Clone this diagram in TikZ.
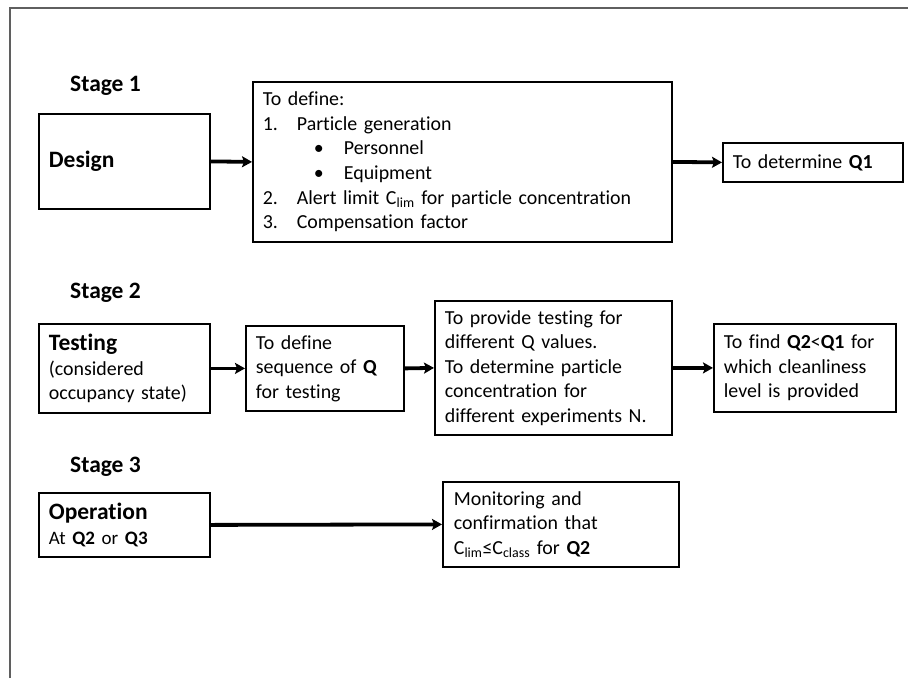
\documentclass[tikz,border=0pt]{standalone}
\usepackage{fontspec}
\setmainfont{Carlito}[Ligatures={NoCommon}]
\usetikzlibrary{arrows.meta}
\definecolor{framegray}{HTML}{5F5F5F}
\newcommand{\ttl}[1]{{\fontsize{23.5}{24.6}\selectfont\bfseries #1}}
\tikzset{
  txt/.style={font=\fontsize{19.9}{24.6}\selectfont},
  stagelabel/.style={font=\fontsize{23.5}{24.6}\selectfont\bfseries, anchor=west, inner sep=0pt},
  box/.style={txt, draw, line width=1.8pt, anchor=north west, align=left, inner xsep=10pt, inner ysep=0pt},
  arr/.style={line width=3.8pt, -{Stealth[length=10pt,width=11pt,inset=2pt]}},
}
\begin{document}
\begin{tikzpicture}[x=1pt,y=-1pt]
\useasboundingbox (0,0) rectangle (908,678);
\draw[framegray, line width=2pt] (10,678) -- (10,8) -- (908,8);

% Stage 1
\node[stagelabel] (s1) at (70,86) {Stage 1};
\node[box, minimum width=171pt, minimum height=95pt, text width=151pt] (design) at (38,113) {\ttl{Design}};
\node[box, minimum width=419pt, minimum height=160pt, text width=399pt] (define) at (252,81) {To define:\\
\makebox[34pt][l]{1.}Particle generation\\
\hspace*{51pt}\makebox[30pt][l]{\textbullet}Personnel\\
\hspace*{51pt}\makebox[30pt][l]{\textbullet}Equipment\\
\makebox[34pt][l]{2.}Alert limit C\textsubscript{lim} for particle concentration\\
\makebox[34pt][l]{3.}Compensation factor};
\node[box, minimum width=180pt, minimum height=39pt, text width=160pt] (q1) at (722,142) {To determine \textbf{Q1}};
\draw[arr] (design.east) -- (define.west);
\draw[arr] (define.east) -- (q1.west);

% Stage 2
\node[stagelabel] (s2) at (70,293) {Stage 2};
\node[box, minimum width=171pt, minimum height=89pt, text width=151pt] (testing) at (38,323) {\ttl{Testing}\\(considered\\occupancy state)};
\node[box, minimum width=158pt, minimum height=85pt, text width=138pt] (seq) at (245,325) {To define\\sequence of \textbf{Q}\\for testing};
\node[box, minimum width=237pt, minimum height=134pt, text width=217pt] (provide) at (434,300) {To provide testing for\\different Q values.\\To determine particle\\concentration for\\different experiments N.};
\node[box, minimum width=182pt, minimum height=88pt, text width=162pt] (find) at (713,323) {To find \textbf{Q2}<\textbf{Q1} for\\which cleanliness\\level is provided};
\draw[arr] (testing.east) -- (seq.west);
\draw[arr] (seq.east) -- (provide.west);
\draw[arr] (provide.east) -- (find.west);

% Stage 3
\node[stagelabel] (s3) at (70,467) {Stage 3};
\node[box, minimum width=171pt, minimum height=64pt, text width=151pt] (oper) at (38,492) {\ttl{Operation}\\\fontsize{19}{24.6}\selectfont At \textbf{Q2} or \textbf{Q3}};
\node[box, minimum width=236pt, minimum height=85pt, text width=214pt, inner xsep=11pt] (monitor) at (442,481) {Monitoring and\\confirmation that\\C\textsubscript{lim}≤C\textsubscript{class} for \textbf{Q2}};
\draw[arr] (oper.east) -- (monitor.west);
\end{tikzpicture}
\end{document}
